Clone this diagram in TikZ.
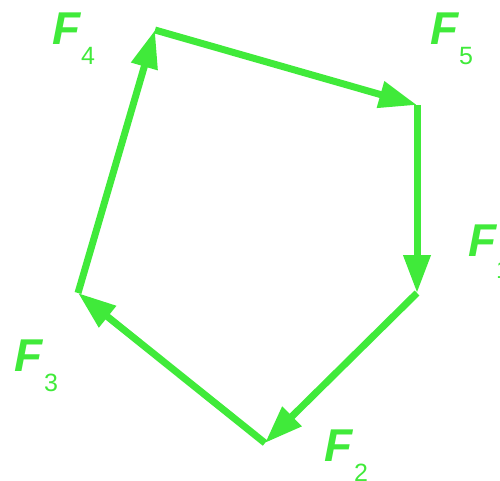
\documentclass[tikz,border=0pt]{standalone}
\usepackage{fontspec}
\setmainfont{Liberation Sans}
\usetikzlibrary{arrows.meta}
\definecolor{fgreen}{RGB}{64,234,58}
\tikzset{
  force/.style={line width=7pt,fgreen,-{Triangle[length=38pt,width=26pt]}},
  fname/.style={fgreen,font=\fontsize{46}{46}\selectfont\bfseries\itshape,inner sep=0pt},
  fsub/.style={fgreen,font=\fontsize{25}{25}\selectfont,inner sep=0pt}
}
\begin{document}
\begin{tikzpicture}[x=1pt,y=-1pt]
  \useasboundingbox (0,0) rectangle (500,481);
  % vertices del poligono
  \coordinate (A) at (155,30);
  \coordinate (B) at (417,105);
  \coordinate (C) at (417,293);
  \coordinate (D) at (265,443);
  \coordinate (E) at (78,293);
  % fuerzas
  \draw[force] (E) -- (A);
  \draw[force] (A) -- (B);
  \draw[force] (B) -- (C);
  \draw[force] (C) -- (D);
  \draw[force] (D) -- (E);
  % etiquetas
  \node[fname] (F4) at (67,29) {F};
  \node[fsub] (s4) at (88,56) {4};
  \node[fname] (F5) at (445,29) {F};
  \node[fsub] (s5) at (466,56) {5};
  \node[fname] (F1) at (483,241) {F};
  \node[fsub] (s1) at (503,270) {1};
  \node[fname] (F3) at (29,356) {F};
  \node[fsub] (s3) at (51,383) {3};
  \node[fname] (F2) at (339,446) {F};
  \node[fsub] (s2) at (361,473) {2};
\end{tikzpicture}
\end{document}
